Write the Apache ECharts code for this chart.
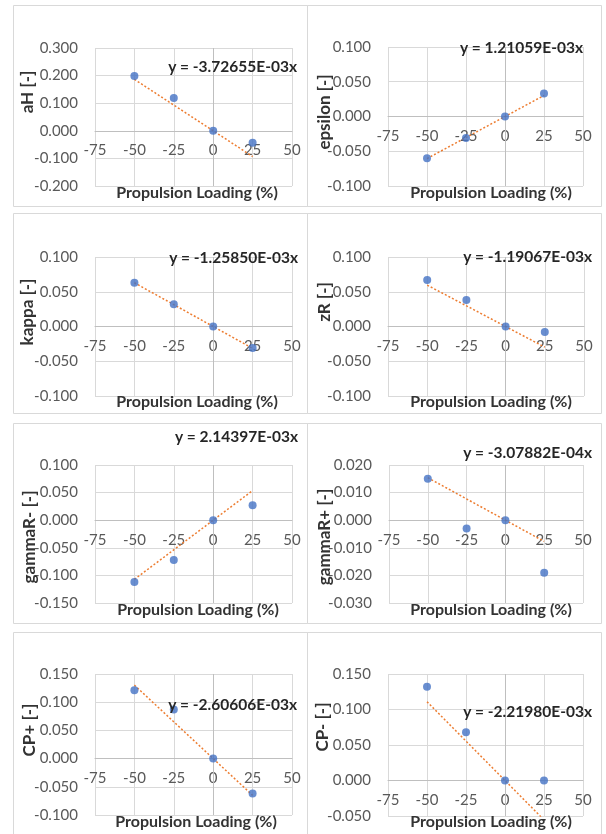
<!DOCTYPE html>
<html>
<head>
<meta charset="utf-8">
<script src="https://cdn.jsdelivr.net/npm/echarts@6/dist/echarts.min.js"></script>
<style>
html,body{margin:0;padding:0;background:#fff;}
#chart{width:606px;height:834px;}
</style>
</head>
<body>
<div id="chart"></div>
<script>
// ---- data ----
const xLoading = [-50, -25, 0, 25];
const aH = [0.199, 0.119, 0.000, -0.043];
const epsilon = [-0.060, -0.031, 0.000, 0.033];
const kappa = [0.063, 0.032, 0.000, -0.031];
const zR = [0.067, 0.038, 0.000, -0.008];
const gammaRminus = [-0.112, -0.072, 0.000, 0.027];
const gammaRplus = [0.015, -0.003, 0.000, -0.019];
const CPplus = [0.121, 0.087, 0.000, -0.062];
const CPminus = [0.132, 0.068, 0.000, 0.000];

const panelNames = ['aH [-]', 'epsilon [-]', 'kappa [-]', 'zR [-]', 'gammaR- [-]', 'gammaR+ [-]', 'CP+ [-]', 'CP- [-]'];
const panelValues = [aH, epsilon, kappa, zR, gammaRminus, gammaRplus, CPplus, CPminus];
const trendSlopes = [-3.72655E-03, 1.21059E-03, -1.25850E-03, -1.19067E-03, 2.14397E-03, -3.07882E-04, -2.60606E-03, -2.21980E-03];
const equationLabels = ['y = -3.72655E-03x', 'y = 1.21059E-03x', 'y = -1.25850E-03x', 'y = -1.19067E-03x', 'y = 2.14397E-03x', 'y = -3.07882E-04x', 'y = -2.60606E-03x', 'y = -2.21980E-03x'];
const xTickMin = -75, xTickMax = 50, xTickStep = 25;
const yTickMin = [-0.2, -0.1, -0.1, -0.1, -0.15, -0.03, -0.1, -0.05];
const yTickMax = [0.3, 0.1, 0.1, 0.1, 0.1, 0.02, 0.15, 0.15];
const yTickStep = [0.1, 0.05, 0.05, 0.05, 0.05, 0.01, 0.05, 0.05];
const xTitle = 'Propulsion Loading (%)';

// ---- layout (pixels) ----
const grids = [
  {left: 95, top: 48, width: 197, height: 138},
  {left: 388, top: 47, width: 195, height: 139},
  {left: 95, top: 257, width: 197, height: 139},
  {left: 388, top: 257, width: 196, height: 139},
  {left: 95, top: 465, width: 197, height: 138},
  {left: 389, top: 465, width: 194, height: 138},
  {left: 95, top: 674, width: 197, height: 141},
  {left: 388, top: 674, width: 195, height: 142}
];
const yTitlePos = [[28, 92], [325, 112], [28, 312], [325, 302], [30, 537], [325, 537], [30, 730], [323, 727]];
const eqPos = [[297, 67], [583, 48], [298, 258], [592, 257], [298, 437], [592, 453], [297, 705], [592, 712]];
const xTitlePos = [[197, 193], [491, 193], [197, 402], [491, 402], [198, 610], [491, 610], [196, 822], [491, 822]];
const frames = [
  [13, 5, 294, 201], [307, 5, 294, 201],
  [13, 213, 294, 200], [307, 213, 294, 200],
  [13, 423, 294, 200], [307, 423, 294, 200],
  [13, 632, 294, 230], [307, 632, 294, 230]
];

const FONT = 'Lato, "Liberation Sans", sans-serif';
const chart = echarts.init(document.getElementById('chart'), null, {renderer: 'canvas'});

const option = {
  animation: false,
  backgroundColor: '#ffffff',
  grid: [], xAxis: [], yAxis: [], series: [], graphic: []
};

frames.forEach(f => {
  option.graphic.push({type: 'rect', shape: {x: f[0] + 0.5, y: f[1] + 0.5, width: f[2], height: f[3]},
    style: {fill: 'none', stroke: '#d9d9d9', lineWidth: 1}, silent: true, z: 0});
});

for (let i = 0; i < 8; i++) {
  option.grid.push(Object.assign({containLabel: false}, grids[i]));
  // place the horizontal axis on the y = 0 line (Excel "axis crosses at 0")
  const zeroOffset = -grids[i].height * (0 - yTickMin[i]) / (yTickMax[i] - yTickMin[i]);
  option.xAxis.push({
    type: 'value', gridIndex: i, min: xTickMin, max: xTickMax, interval: xTickStep,
    position: 'bottom', offset: zeroOffset,
    axisLine: {show: true, onZero: false, lineStyle: {color: '#bfbfbf', width: 1}},
    axisTick: {show: false},
    axisLabel: {color: '#595959', fontFamily: FONT, fontSize: 15, margin: 12},
    splitLine: {show: true, lineStyle: {color: '#d9d9d9', width: 1}}
  });
  option.yAxis.push({
    type: 'value', gridIndex: i, min: yTickMin[i], max: yTickMax[i], interval: yTickStep[i],
    axisLine: {show: false, onZero: false},
    axisTick: {show: false},
    axisLabel: {color: '#595959', fontFamily: FONT, fontSize: 15, margin: 17,
      formatter: v => v.toFixed(3)},
    splitLine: {show: true, lineStyle: {color: '#d9d9d9', width: 1}}
  });
  const pts = xLoading.map((x, k) => [x, panelValues[i][k]]);
  const xLo = Math.min(...xLoading), xHi = Math.max(...xLoading);
  option.series.push({
    type: 'line', xAxisIndex: i, yAxisIndex: i, showSymbol: false, symbol: 'none',
    data: [[xLo, trendSlopes[i] * xLo], [xHi, trendSlopes[i] * xHi]],
    lineStyle: {color: '#ED7D31', width: 1.5, type: [2, 2]}, clip: true, z: 3, silent: true
  });
  option.series.push({
    type: 'scatter', xAxisIndex: i, yAxisIndex: i, data: pts,
    symbol: 'circle', symbolSize: 8, itemStyle: {color: '#4472C4'}, z: 4, silent: true,
    markLine: {silent: true, symbol: ['none', 'none'], label: {show: false}, z: 2,
      lineStyle: {color: '#bfbfbf', width: 1, type: 'solid'}, data: [{xAxis: 0}]}
  });
  option.graphic.push({type: 'text', x: yTitlePos[i][0], y: yTitlePos[i][1], rotation: Math.PI / 2,
    style: {text: panelNames[i], font: 'bold 17px ' + FONT, fill: '#333333', textAlign: 'center', textVerticalAlign: 'middle'}, z: 10});
  option.graphic.push({type: 'text', x: eqPos[i][0], y: eqPos[i][1],
    style: {text: equationLabels[i], font: 'bold 15.5px ' + FONT, fill: '#262626', textAlign: 'right', textVerticalAlign: 'middle'}, z: 10});
  option.graphic.push({type: 'text', x: xTitlePos[i][0], y: xTitlePos[i][1],
    style: {text: xTitle, font: 'bold 16px ' + FONT, fill: '#333333', textAlign: 'center', textVerticalAlign: 'middle'}, z: 10});
}

chart.setOption(option);
</script>
</body>
</html>
